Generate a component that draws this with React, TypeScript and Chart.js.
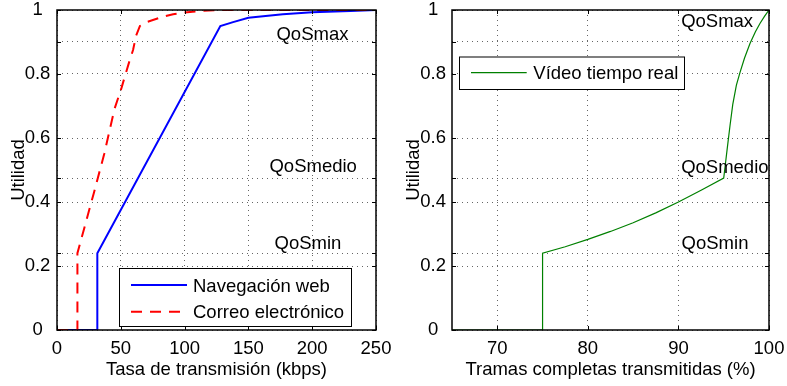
import React, { useEffect, useRef } from 'react';
import { Chart, registerables } from 'chart.js';

Chart.register(...registerables);

const FONT_FAMILY = "'Liberation Sans', Arial, Helvetica, sans-serif";
const FS = 18.5;

// ---- Left chart: Utilidad vs Tasa de transmisión (kbps)
const webRate = [0, 31.6, 31.6, 128, 138, 150, 177, 200, 230, 250];
const webUtility = [0, 0, 0.24, 0.95, 0.962, 0.976, 0.987, 0.993, 0.997, 1];
const mailRate = [0, 16, 16, 29, 37, 45, 50.5, 53, 56, 59.6, 62, 65, 70, 74, 83, 91, 100, 112, 130, 250];
const mailUtility = [0, 0, 0.24, 0.43, 0.55, 0.69, 0.756, 0.79, 0.83, 0.875, 0.92, 0.95, 0.962, 0.967, 0.979, 0.987, 0.992, 0.997, 1, 1];

// ---- Right chart: Utilidad vs Tramas completas transmitidas (%)
const videoFrames = [65, 75, 75, 77.5, 80, 82.5, 85, 87.5, 90, 92.5, 95, 95.15, 95.4, 95.7, 96.0, 96.4, 96.8, 97.3, 97.9, 98.5, 99, 99.5, 100];
const videoUtility = [0, 0, 0.24, 0.26, 0.283, 0.308, 0.335, 0.366, 0.4, 0.437, 0.475, 0.51, 0.57, 0.64, 0.705, 0.765, 0.805, 0.85, 0.895, 0.932, 0.958, 0.98, 1];

// ---- Ticks / grid
const yLabelValues = [0, 0.2, 0.4, 0.6, 0.8, 1];
const qosGridValues = [0.24, 0.475, 0.9];
const leftXTicks = [0, 50, 100, 150, 200, 250];
const rightXTicks = [70, 80, 90, 100];

// ---- QoS annotations
const qosNames = ['QoSmax', 'QoSmedio', 'QoSmin'];
const leftQosX = [172, 166.5, 170.5];
const leftQosY = [0.906, 0.494, 0.253];
const rightQosX = [90.3, 90.3, 90.35];
const rightQosY = [0.948, 0.492, 0.253];

const font = { family: FONT_FAMILY, size: FS };
const tickFont = { family: FONT_FAMILY, size: FS, lineHeight: 1 };

const matlabPlugin = {
  id: 'matlab',
  afterDatasetsDraw(chart: any, _args: any, opts: any) {
    const { ctx, chartArea: a, scales } = chart;
    const xs = scales.x;
    const ys = scales.y;
    ctx.save();
    // QoS labels
    ctx.font = `${FS}px ${FONT_FAMILY}`;
    ctx.fillStyle = '#000';
    ctx.textAlign = 'left';
    ctx.textBaseline = 'alphabetic';
    opts.qosNames.forEach((n: string, i: number) => {
      ctx.fillText(n, xs.getPixelForValue(opts.qosX[i]), ys.getPixelForValue(opts.qosY[i]));
    });
    // frame
    ctx.setLineDash([]);
    ctx.strokeStyle = '#000';
    ctx.lineWidth = 1.5;
    ctx.strokeRect(a.left, a.top, a.right - a.left, a.bottom - a.top);
    // inward tick marks on all sides
    ctx.lineWidth = 1;
    const tl = 4;
    const seg = (x1: number, y1: number, x2: number, y2: number) => {
      ctx.beginPath();
      ctx.moveTo(x1, y1);
      ctx.lineTo(x2, y2);
      ctx.stroke();
    };
    xs.ticks.forEach((t: any) => {
      const px = Math.round(xs.getPixelForValue(t.value)) + 0.5;
      seg(px, a.bottom, px, a.bottom - tl);
      seg(px, a.top, px, a.top + tl);
    });
    ys.ticks.forEach((t: any) => {
      const py = Math.round(ys.getPixelForValue(t.value)) + 0.5;
      seg(a.left, py, a.left + tl, py);
      seg(a.right, py, a.right - tl, py);
    });
    // legend box
    const lg = opts.legend;
    ctx.fillStyle = '#fff';
    ctx.fillRect(lg.x, lg.y, lg.w, lg.h);
    ctx.strokeStyle = '#000';
    ctx.lineWidth = 1;
    ctx.strokeRect(lg.x + 0.5, lg.y + 0.5, lg.w, lg.h);
    chart.data.datasets.forEach((ds: any, i: number) => {
      const ry = lg.rows[i];
      ctx.strokeStyle = ds.borderColor;
      ctx.lineWidth = ds.borderWidth;
      ctx.setLineDash(ds.borderDash || []);
      seg(lg.lineX0, ry, lg.lineX1, ry);
      ctx.setLineDash([]);
      ctx.fillStyle = '#000';
      ctx.textAlign = 'left';
      ctx.textBaseline = 'alphabetic';
      ctx.fillText(ds.label, lg.textX, ry + 6.7);
    });
    ctx.restore();
  },
};

const zeroPad = (s: any) => {
  s.paddingTop = 0;
  s.paddingBottom = 0;
  s.paddingLeft = 0;
  s.paddingRight = 0;
};

function makeOptions(cfg: any) {
  return {
    responsive: false,
    animation: false,
    layout: { padding: { top: 10, right: cfg.padRight, left: 0, bottom: 0 } },
    plugins: {
      legend: { display: false },
      tooltip: { enabled: false },
      matlab: cfg.matlab,
    },
    elements: { point: { radius: 0 }, line: { tension: 0 } },
    scales: {
      x: {
        type: 'linear',
        min: cfg.xMin,
        max: cfg.xMax,
        afterBuildTicks: (s: any) => {
          s.ticks = cfg.xTicks.map((v: number) => ({ value: v }));
        },
        afterFit: (s: any) => {
          s.height = 56;
          zeroPad(s);
        },
        ticks: { font: tickFont, color: '#000', padding: 10, autoSkip: false, maxRotation: 0 },
        grid: { color: 'rgba(0,0,0,0.6)', lineWidth: 1, drawTicks: false },
        border: { display: false, dash: [1, 4] },
        title: { display: true, text: cfg.xTitle, font, color: '#000', padding: { top: 0, bottom: 5.4 } },
      },
      y: {
        type: 'linear',
        min: 0,
        max: 1,
        afterBuildTicks: (s: any) => {
          s.ticks = [...yLabelValues, ...qosGridValues].sort((p, q) => p - q).map((v) => ({ value: v }));
        },
        afterFit: (s: any) => {
          s.width = cfg.yWidth;
          zeroPad(s);
        },
        ticks: {
          font: tickFont,
          color: '#000',
          padding: cfg.yPad,
          autoSkip: false,
          crossAlign: 'center',
          callback: (v: number) => (yLabelValues.includes(v) ? String(v) : ''),
        },
        grid: { color: 'rgba(0,0,0,0.6)', lineWidth: 1, drawTicks: false },
        border: { display: false, dash: [1, 4] },
        title: { display: true, text: 'Utilidad', font, color: '#000', padding: { top: cfg.yTitlePad, bottom: 0 } },
      },
    },
  };
}

function toPoints(xs: number[], ys: number[]) {
  return xs.map((x, i) => ({ x, y: ys[i] }));
}

function LeftChart() {
  const ref = useRef<HTMLCanvasElement>(null);
  useEffect(() => {
    const chart = new Chart(ref.current as HTMLCanvasElement, {
      type: 'line',
      data: {
        datasets: [
          {
            label: 'Navegación web',
            data: toPoints(webRate, webUtility),
            borderColor: '#0000ff',
            borderWidth: 2,
            fill: false,
            order: 1,
          },
          {
            label: 'Correo electrónico',
            data: toPoints(mailRate, mailUtility),
            borderColor: '#ff0000',
            borderWidth: 2,
            borderDash: [11, 8],
            fill: false,
            order: 0,
          },
        ],
      },
      options: makeOptions({
        padRight: 17,
        xMin: 0,
        xMax: 250,
        xTicks: leftXTicks,
        xTitle: 'Tasa de transmisión (kbps)',
        yWidth: 57,
        yPad: 6.6,
        yTitlePad: 8,
        matlab: {
          qosNames,
          qosX: leftQosX,
          qosY: leftQosY,
          legend: { x: 119, y: 268, w: 232, h: 58, lineX0: 131, lineX1: 187, textX: 193, rows: [285, 311.7] },
        },
      }) as any,
      plugins: [matlabPlugin as any],
    });
    return () => chart.destroy();
  }, []);
  return <canvas ref={ref} width={393} height={386} style={{ position: 'absolute', left: 0, top: 0 }} />;
}

function RightChart() {
  const ref = useRef<HTMLCanvasElement>(null);
  useEffect(() => {
    const chart = new Chart(ref.current as HTMLCanvasElement, {
      type: 'line',
      data: {
        datasets: [
          {
            label: 'Vídeo tiempo real',
            data: toPoints(videoFrames, videoUtility),
            borderColor: '#008000',
            borderWidth: 1.2,
            fill: false,
          },
        ],
      },
      options: makeOptions({
        padRight: 18,
        xMin: 65,
        xMax: 100,
        xTicks: rightXTicks,
        xTitle: 'Tramas completas transmitidas (%)',
        yWidth: 58,
        yPad: 6,
        yTitlePad: 9,
        matlab: {
          qosNames,
          qosX: rightQosX,
          qosY: rightQosY,
          legend: { x: 65, y: 56.5, w: 225, h: 32.5, lineX0: 77, lineX1: 132.7, textX: 139.3, rows: [72.7] },
        },
      }) as any,
      plugins: [matlabPlugin as any],
    });
    return () => chart.destroy();
  }, []);
  return <canvas ref={ref} width={393} height={386} style={{ position: 'absolute', left: 394, top: 0 }} />;
}

export default function App() {
  return (
    <div style={{ position: 'fixed', left: 0, top: 0, width: 787, height: 386, background: '#fff' }}>
      <LeftChart />
      <RightChart />
    </div>
  );
}
